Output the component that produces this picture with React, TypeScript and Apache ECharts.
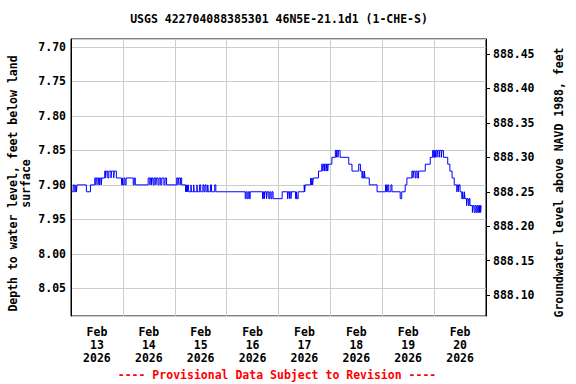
import React, { useEffect, useRef } from 'react';
import * as echarts from 'echarts';

const TITLE = 'USGS 422704088385301 46N5E-21.1d1 (1-CHE-S)';
const NOTE = '---- Provisional Data Subject to Revision ----';
const LEFT_NAME = 'Depth to water level, feet below land\nsurface';
const RIGHT_NAME = 'Groundwater level above NAVD 1988, feet';

const dayLabels = [
  'Feb\n13\n2026', 'Feb\n14\n2026', 'Feb\n15\n2026', 'Feb\n16\n2026',
  'Feb\n17\n2026', 'Feb\n18\n2026', 'Feb\n19\n2026', 'Feb\n20\n2026',
];

// [hour of day, depth to water (ft)] change points, 15-minute readings
const feb13: [number, number][] = [
  [0, 7.91], [1.0, 7.9], [1.5, 7.91], [2.2, 7.9], [2.5, 7.91], [2.8, 7.9], [7.1, 7.91], [9.0, 7.9],
  [11, 7.89], [11.5, 7.9], [11.75, 7.89], [12.5, 7.9], [12.75, 7.89], [13.25, 7.9], [13.5, 7.89], [14, 7.9],
  [14.25, 7.89], [15.6, 7.88], [16, 7.89], [16.25, 7.88], [17, 7.89], [17.5, 7.88], [18.5, 7.89], [18.75, 7.88],
  [19.75, 7.89], [20, 7.88], [21, 7.89], [23.4, 7.9], [23.75, 7.89],
];
const feb14: [number, number][] = [
  [0, 7.9], [0.5, 7.89], [1, 7.9], [1.5, 7.89], [4.8, 7.9], [5.25, 7.89], [5.75, 7.9], [11.7, 7.89],
  [12.5, 7.9], [12.75, 7.89], [13.25, 7.9], [13.5, 7.89], [14, 7.9], [14.5, 7.89], [15.25, 7.9], [15.5, 7.89],
  [16.25, 7.9], [16.75, 7.89], [17.5, 7.9], [18, 7.89], [19, 7.9], [19.5, 7.89], [20.2, 7.9],
];
const feb15: [number, number][] = [
  [0.9, 7.89], [1.5, 7.9], [1.75, 7.89], [2.5, 7.9], [2.75, 7.89], [3.2, 7.9], [5, 7.91], [5.25, 7.9],
  [5.5, 7.91], [5.75, 7.9], [6, 7.91], [6.25, 7.9], [6.5, 7.91], [7.5, 7.9], [7.75, 7.91], [8.75, 7.9],
  [9, 7.91], [10.25, 7.9], [10.5, 7.91], [11.5, 7.9], [12, 7.91], [13, 7.9], [13.5, 7.91], [14, 7.9],
  [14.5, 7.91], [15.25, 7.9], [15.5, 7.91], [16.5, 7.9], [17, 7.91], [18.5, 7.9], [19, 7.91],
];
const feb16: [number, number][] = [
  [0, 7.91], [8.6, 7.92], [9, 7.91], [9.5, 7.92], [10, 7.91], [10.5, 7.92], [10.9, 7.91], [16.6, 7.92],
  [17, 7.91], [17.5, 7.92], [17.75, 7.91], [18.5, 7.92], [18.75, 7.91], [19.5, 7.92], [20, 7.91], [20.5, 7.92],
  [21, 7.91], [21.5, 7.92],
];
const feb17: [number, number][] = [
  [0, 7.92], [1.7, 7.91], [4.2, 7.92], [4.5, 7.91], [5, 7.92], [5.25, 7.91], [5.75, 7.92], [6, 7.91],
  [7.9, 7.92], [8.3, 7.91], [8.6, 7.92], [9.1, 7.91], [11.9, 7.9], [12.1, 7.91], [12.4, 7.9], [14.9, 7.89],
  [15.2, 7.9], [15.5, 7.89], [15.8, 7.9], [16.1, 7.89], [18.5, 7.88], [20, 7.87], [20.5, 7.88], [20.75, 7.87],
  [21.25, 7.88], [21.5, 7.87], [22, 7.88], [22.25, 7.87], [22.75, 7.88], [23, 7.87],
];
const feb18: [number, number][] = [
  [0, 7.87], [0.7, 7.86], [2.3, 7.85], [2.75, 7.86], [3, 7.85], [3.5, 7.86], [3.75, 7.85], [4.5, 7.86],
  [8.5, 7.87], [10, 7.88], [13.1, 7.87], [13.9, 7.88], [14.6, 7.89], [15, 7.88], [15.25, 7.89], [15.75, 7.88],
  [16, 7.89], [18, 7.9], [21.6, 7.91],
];
const feb19: [number, number][] = [
  [0, 7.91], [1.5, 7.9], [2, 7.91], [2.5, 7.9], [3, 7.91], [4, 7.9], [4.5, 7.91], [8.3, 7.92],
  [9, 7.91], [10.6, 7.9], [11.4, 7.89], [13.7, 7.88], [14.2, 7.89], [14.5, 7.88], [15.2, 7.89], [15.6, 7.88],
  [16.2, 7.89], [16.8, 7.88], [19.9, 7.87], [22.2, 7.86], [23.3, 7.85], [23.8, 7.86],
];
const feb20: [number, number][] = [
  [0.2, 7.85], [0.5, 7.86], [0.75, 7.85], [1.3, 7.86], [1.6, 7.85], [2.3, 7.86], [2.6, 7.85], [3.3, 7.86],
  [3.6, 7.85], [4.3, 7.86], [6.3, 7.87], [7.3, 7.88], [8.3, 7.89], [9.3, 7.9], [10.5, 7.91], [10.8, 7.9],
  [11.2, 7.91], [11.5, 7.9], [12, 7.91], [12.8, 7.92], [13.2, 7.91], [13.5, 7.92], [14, 7.91], [14.3, 7.92],
  [15, 7.93], [15.3, 7.92], [15.8, 7.93], [16.2, 7.92], [16.6, 7.93], [17.7, 7.94], [18, 7.93], [18.5, 7.94],
  [19, 7.93], [19.5, 7.94], [20, 7.93], [20.5, 7.94], [21, 7.93], [21.5, 7.94], [21.75, 7.93], [21.9, 7.93],
];
const days = [feb13, feb14, feb15, feb16, feb17, feb18, feb19, feb20];

const DATUM = 896.16; // land surface elevation, ft NAVD 1988
const DEPTH_TOP = 7.6884;
const DEPTH_BOTTOM = 8.0902;

const FONT = '"DejaVu Sans Mono", monospace';

export default function App() {
  const ref = useRef<HTMLDivElement>(null);
  useEffect(() => {
    const chart = echarts.init(ref.current!, null, { renderer: 'svg' });
    const data = days.flatMap((d, i) => d.map(([h, v]) => [i * 24 + h, v]));
    const textStyle = { fontFamily: FONT, fontWeight: 'bold' as const, fontSize: 11.5, color: '#000' };
    chart.setOption({
      animation: false,
      backgroundColor: '#fff',
      textStyle: { fontFamily: FONT },
      grid: {
        left: 71, right: 90, top: 39, bottom: 68, containLabel: false, outerBoundsMode: 'none',
        show: true, borderColor: '#000', borderWidth: 1, backgroundColor: 'transparent',
      },
      xAxis: [
        {
          type: 'value', position: 'top', min: 0, max: 192, interval: 24,
          axisLine: { show: false }, axisTick: { show: false }, axisLabel: { show: false },
          splitLine: { show: true, lineStyle: { color: '#cccccc', width: 1 } },
        },
        {
          type: 'category', position: 'bottom', data: dayLabels, boundaryGap: true,
          axisLine: { show: false }, axisTick: { show: false }, splitLine: { show: false },
          axisLabel: { ...textStyle, margin: 9, lineHeight: 13, interval: 0 },
        },
      ],
      yAxis: [
        {
          type: 'value', position: 'left', inverse: true, min: DEPTH_TOP, max: DEPTH_BOTTOM, splitNumber: 8,
          axisLine: { show: true, lineStyle: { color: '#000' } },
          axisTick: { show: false },
          axisLabel: { ...textStyle, margin: 5, showMinLabel: false, showMaxLabel: false,
            formatter: (v: number) => v.toFixed(2) },
          splitLine: { show: true, lineStyle: { color: '#cccccc', width: 1 } },
          name: LEFT_NAME, nameLocation: 'middle', nameRotate: 90, nameGap: 39, nameMoveOverlap: false,
          nameTextStyle: { ...textStyle, lineHeight: 13, padding: [0, 12, 0, 0] },
        },
        {
          type: 'value', position: 'right', min: DATUM - DEPTH_BOTTOM, max: DATUM - DEPTH_TOP, splitNumber: 8,
          axisLine: { show: true, lineStyle: { color: '#000' } },
          axisTick: { show: true, inside: false, length: 4, lineStyle: { color: '#000' } },
          axisLabel: { ...textStyle, margin: 7, showMinLabel: false, showMaxLabel: false,
            formatter: (v: number) => v.toFixed(2) },
          splitLine: { show: false },
          name: RIGHT_NAME, nameLocation: 'middle', nameRotate: 90, nameGap: 67, nameMoveOverlap: false,
          nameTextStyle: { ...textStyle, padding: [0, 10, 0, 0] },
        },
      ],
      graphic: [
        {
          type: 'text', x: 279, y: 19,
          style: { text: TITLE, align: 'center', verticalAlign: 'middle', fontFamily: FONT,
            fontWeight: 'bold', fontSize: 11.5, fill: '#000' },
        },
        {
          type: 'text', x: 277, y: 375,
          style: { text: NOTE, align: 'center', verticalAlign: 'middle', fontFamily: FONT,
            fontWeight: 'bold', fontSize: 11.5, fill: '#ff0000' },
        },
      ],
      series: [
        {
          type: 'line', xAxisIndex: 0, yAxisIndex: 0, data, step: 'end', showSymbol: false,
          symbol: 'none', lineStyle: { color: '#0000ff', width: 1 }, itemStyle: { color: '#0000ff' },
        },
      ],
    });
    return () => chart.dispose();
  }, []);
  return (
    <div
      ref={ref}
      style={{ position: 'fixed', left: 0, top: 0, width: 576, height: 384, background: '#fff' }}
    />
  );
}
